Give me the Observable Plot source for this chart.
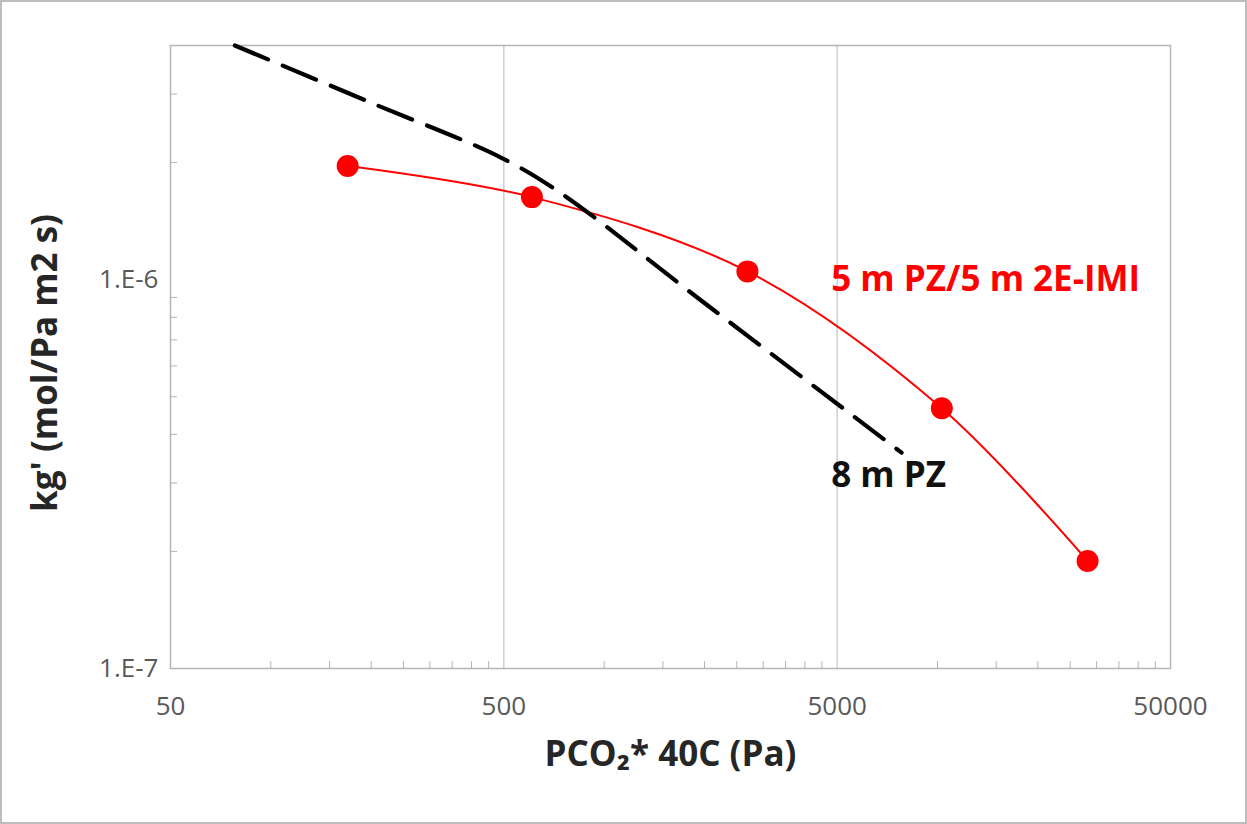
<!DOCTYPE html>
<html>
<head>
<meta charset="utf-8">
<script src="https://cdn.jsdelivr.net/npm/d3@7"></script>
<script src="https://cdn.jsdelivr.net/npm/@observablehq/plot@0.6"></script>
<style>
  html, body { margin: 0; padding: 0; background: white; }
  #chart svg { display: block; outline: 2px solid #bdbdbd; outline-offset: -2px; }
</style>
</head>
<body>
<div id="chart"></div>
<script>
// ---- Data ----
const mixPco2 = [170, 607, 2690, 10300, 28200];           // 5 m PZ/5 m 2E-IMI, Pa
const mixKg   = [1.96e-6, 1.63e-6, 1.05e-6, 4.67e-7, 1.89e-7];

const pzPco2  = [78, 200, 490, 740, 1950, 7800];           // 8 m PZ, Pa
const pzKg    = [4.0e-6, 2.85e-6, 2.06e-6, 1.67e-6, 8.85e-7, 3.59e-7];

const xTickValues = [50, 500, 5000, 50000];
const xTickLabels = ["50", "500", "5000", "50000"];
const yTickValues = [1e-7, 1e-6];
const yTickLabels = ["1.E-7", "1.E-6"];
const xMinorTicks = [100,150,200,250,300,350,400,450,
                     1000,1500,2000,2500,3000,3500,4000,4500,
                     10000,15000,20000,25000,30000,35000,40000,45000];
const yMinorTicks = [2e-7,3e-7,4e-7,5e-7,6e-7,7e-7,8e-7,9e-7,2e-6,3e-6];
const xGrid = [500, 5000];

const seriesNames = ["5 m PZ/5 m 2E-IMI", "8 m PZ"];
const xTitle = "PCO\u2082* 40C (Pa)";
const yTitle = "kg' (mol/Pa m2 s)";

// ---- Build tables ----
const mix = mixPco2.map((x, i) => ({x, y: mixKg[i]}));
const pz  = pzPco2.map((x, i) => ({x, y: pzKg[i]}));
const xTicks = xTickValues.map((v, i) => ({v, t: xTickLabels[i]}));
const yTicks = yTickValues.map((v, i) => ({v, t: yTickLabels[i]}));
const labels = [
  {x: 4800, y: 1.0e-6,  text: seriesNames[0], color: "#ff0000"},
  {x: 4800, y: 3.13e-7, text: seriesNames[1], color: "#111111"}
];

const FONT = "'Open Sans', Lato, sans-serif";

const chart = Plot.plot({
  width: 1247,
  height: 824,
  marginLeft: 170,
  marginRight: 77,
  marginTop: 45,
  marginBottom: 156,
  x: {type: "log", domain: [50, 50000], label: null},
  y: {type: "log", domain: [1e-7, 4e-6], label: null},
  style: {fontFamily: FONT, fontSize: "26px", color: "#595959", background: "white", overflow: "visible"},
  marks: [
    Plot.ruleX(xGrid, {stroke: "#c4c4c4", strokeWidth: 1.2}),
    Plot.frame({stroke: "#b5b5b5", strokeWidth: 1.5}),
    Plot.axisX(xMinorTicks, {anchor: "bottom", tickSize: 7, dy: -7, tickFormat: () => "", label: null, stroke: "#b5b5b5"}),
    Plot.axisY(yMinorTicks, {anchor: "left", tickSize: 7, dx: 7, tickFormat: () => "", label: null, stroke: "#b5b5b5"}),
    Plot.text(xTicks, {x: "v", text: "t", frameAnchor: "bottom", lineAnchor: "middle", dy: 38, fill: "#595959", fontSize: 26}),
    Plot.text(yTicks, {y: "v", text: "t", frameAnchor: "left", dx: -12, textAnchor: "end", fill: "#595959", fontSize: 26}),
    Plot.line(mix, {x: "x", y: "y", stroke: "#ff0000", strokeWidth: 2, curve: "catmull-rom"}),
    Plot.dot(mix, {x: "x", y: "y", r: 11, fill: "#ff0000", stroke: "none"}),
    Plot.line(pz, {x: "x", y: "y", stroke: "#000000", strokeWidth: 4.2, strokeDasharray: "36,16", curve: "catmull-rom"}),
    Plot.text(labels, {x: "x", y: "y", text: "text", fill: "color", textAnchor: "start", fontSize: 35, fontWeight: "bold"}),
    Plot.text([xTitle], {text: d => d, frameAnchor: "bottom", textAnchor: "middle", lineAnchor: "middle", dy: 86, fontSize: 35, fontWeight: "bold", fill: "#262626"}),
    Plot.text([yTitle], {text: d => d, frameAnchor: "left", textAnchor: "middle", lineAnchor: "middle", dx: -125, dy: 6, rotate: -90, fontSize: 35, fontWeight: "bold", fill: "#262626"})
  ]
});
document.getElementById("chart").appendChild(chart);
</script>
</body>
</html>
